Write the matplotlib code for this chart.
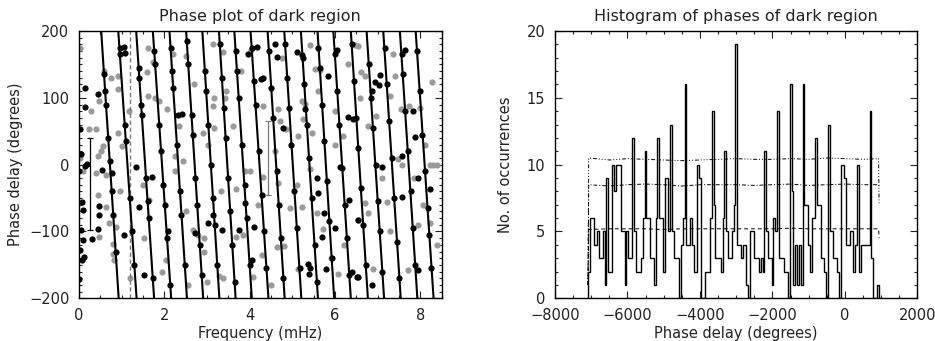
import numpy as np
import matplotlib.pyplot as plt
from matplotlib.ticker import MultipleLocator

# -------------------------------
# Left panel data
# -------------------------------
# fitted phase lines: frequency (mHz) where each line hits +200 and -200 deg
line_top = [0.52, 0.92, 1.34, 1.73, 2.12, 2.51, 2.89, 3.28, 3.64, 4.02,
            4.42, 4.81, 5.20, 5.59, 5.96, 6.37, 6.74, 7.13, 7.52, 7.89]
line_bottom = [0.93, 1.35, 1.76, 2.16, 2.53, 2.91, 3.29, 3.67, 4.05, 4.44,
               4.82, 5.21, 5.60, 5.98, 6.37, 6.77, 7.15, 7.54, 7.93, 8.31]

# (frequency mHz, phase deg)
black_pts = [
    (0.59, 135), (0.61, 110), (0.63, 90), (0.68, 40), (0.72, 5), (0.77, -40), (0.80, -75), (0.86, -130),
    (0.95, 175), (0.96, 165), (1.07, 60), (1.10, 35), (1.19, -50), (1.24, -100), (1.30, -150),
    (1.40, 145), (1.41, 130), (1.46, 90), (1.47, 75), (1.57, -20), (1.61, -55), (1.63, -80), (1.73, -170),
    (1.76, 170), (1.78, 150), (1.88, 60), (1.92, 20), (1.98, -30), (2.01, -60), (2.06, -110), (2.14, -180),
    (2.15, 175), (2.18, 140), (2.21, 115), (2.29, 30), (2.37, -40), (2.40, -75), (2.48, -150),
    (2.53, 185), (2.56, 150), (2.64, 75), (2.67, 45), (2.73, -20), (2.77, -60), (2.83, -120), (2.88, -165),
    (2.95, 140), (2.98, 110), (3.03, 60), (3.09, 0), (3.14, -50), (3.18, -90), (3.24, -150),
    (3.30, 180), (3.35, 130), (3.39, 85), (3.44, 40), (3.50, -20), (3.54, -70), (3.59, -120), (3.65, -175),
    (3.67, 170), (3.70, 140), (3.74, 100), (3.81, 30), (3.88, -30), (3.93, -80), (4.00, -150),
    (4.05, 175), (4.10, 125), (4.14, 90), (4.21, 20), (4.28, -45), (4.34, -100), (4.39, -155),
    (4.45, 170), (4.51, 115), (4.55, 70), (4.63, -10), (4.68, -60), (4.73, -110), (4.79, -170),
    (4.83, 180), (4.88, 130), (4.93, 85), (4.98, 30), (5.05, -40), (5.11, -95), (5.17, -155),
    (5.24, 160), (5.28, 120), (5.34, 60), (5.39, 10), (5.45, -50), (5.52, -120), (5.58, -175),
    (5.61, 175), (5.64, 145), (5.70, 90), (5.75, 35), (5.81, -25), (5.87, -85), (5.92, -140),
    (6.00, 165), (6.05, 110), (6.10, 60), (6.17, -5), (6.23, -60), (6.28, -110), (6.33, -165),
    (6.39, 180), (6.45, 125), (6.50, 70), (6.55, 25), (6.61, -35), (6.66, -90), (6.72, -150),
    (6.79, 150), (6.84, 100), (6.89, 55), (6.95, 0), (7.00, -55), (7.05, -100), (7.11, -160),
    (7.16, 175), (7.21, 120), (7.27, 65), (7.33, 10), (7.39, -50), (7.45, -115), (7.51, -170),
    (7.56, 165), (7.59, 135), (7.64, 80), (7.71, 20), (7.77, -40), (7.82, -95), (7.88, -150),
    (7.92, 170), (7.99, 110), (8.05, 45), (8.11, -10), (8.17, -65), (8.21, -105), (8.26, -155),
    # points away from the lines
    (0.14, 114), (0.14, 86), (0.02, 54), (0.05, 16), (0.18, 1), (0.06, -56), (0.09, -68),
    (0.05, -98), (0.10, -113), (0.02, -128), (0.12, -138), (0.06, -143), (0.01, -171),
    (0.30, -111), (0.45, 106), (0.48, -76), (0.45, -96), (0.00, -10), (0.13, -2),
    (0.46, -62), (0.53, -8), (0.77, -13), (1.06, 176), (1.08, 167), (1.34, -3), (1.40, -63),
    (1.06, -105), (1.53, -165), (1.70, -18), (2.08, -100), (2.33, 74), (2.41, 76),
    (2.71, -102), (3.03, -88), (3.14, -75), (3.35, -98), (3.76, -98), (3.88, -58),
    (3.97, 166), (4.05, -143), (4.09, -93), (4.17, 176), (4.27, 128), (4.32, 129),
    (4.59, 180), (4.64, 161), (4.79, 55), (5.12, 169), (5.22, 164), (5.29, 83),
    (5.36, -148), (5.38, -163), (5.41, -154), (5.57, -20), (5.61, -43), (5.69, -108),
    (5.75, -73), (5.80, -156), (5.84, 133), (6.00, -95), (6.04, 171), (6.11, -4),
    (6.31, 71), (6.32, -53), (6.39, -160), (6.43, 69), (6.51, -168), (6.54, -168),
    (6.55, -83), (6.86, 110), (6.86, -180), (6.93, 123), (7.02, 119), (7.06, 134),
    (7.09, -4), (7.56, 13), (7.56, -48), (7.65, 171), (7.82, 81), (7.88, 41),
    (7.94, -20), (7.94, -158), (8.23, -36),
]

gray_pts = [
    (0.02, 175), (0.75, 130), (0.91, 133), (0.59, 140), (0.91, 113), (0.28, 80), (0.48, 95),
    (0.40, 53), (0.23, 53), (0.56, 28), (0.52, 20), (0.44, 13), (0.02, 10), (0.91, 48),
    (1.00, 28), (1.18, 80), (1.61, 175), (1.73, 153), (1.59, 138), (1.61, 103), (1.77, 100),
    (1.88, 95), (2.06, 83), (2.20, 165), (2.51, 163), (2.35, 58), (2.24, 13), (2.43, 5),
    (2.90, 48), (3.02, 30), (3.13, 88), (3.17, 100), (3.41, 100), (3.17, 55), (3.15, 180),
    (3.45, 110), (3.60, 58), (3.37, 169), (4.03, 171), (2.70, 120), (3.80, 140),
    (5.41, 179), (4.75, 160), (5.29, 91), (5.22, 96), (5.53, 143), (5.65, 141), (5.61, 110),
    (5.26, 68), (4.67, 83), (4.32, 88), (4.71, 66), (4.86, 53), (5.14, 43), (5.45, 48),
    (5.99, 30), (6.19, 43), (6.47, 179), (6.55, 178), (6.62, 138), (6.70, 133), (6.58, 100),
    (6.78, 58), (6.96, 73), (7.37, 166), (7.41, 133), (7.55, 83), (7.73, 88), (8.27, 123),
    (8.30, 0), (7.48, 8), (7.28, 103), (7.98, 85), (8.12, 30), (4.60, 20), (6.30, 150),
    (6.00, 80),
    (0.09, -10), (0.40, -13), (0.63, -16), (0.44, -45), (0.63, -63), (0.71, -88), (0.79, -118),
    (0.79, -133), (0.95, -40), (0.87, -93), (0.46, -108), (0.83, -143), (1.49, -30),
    (1.53, -110), (1.65, -53), (2.04, -143), (2.24, -10), (2.51, -70), (2.67, -98),
    (2.78, -106), (2.94, -110), (2.94, -130), (3.29, -166), (3.37, -170), (3.33, -40),
    (3.68, -36), (3.68, -108), (3.84, -106), (4.00, -10), (4.07, -168), (1.20, -170),
    (1.95, -160), (2.55, -180), (3.00, -175), (3.90, -10),
    (4.32, -18), (4.67, -28), (4.94, -65), (5.22, -63), (5.57, -73), (5.72, -97), (5.41, -6),
    (4.63, -123), (4.81, -121), (4.28, -135), (5.14, -156), (6.08, -163), (6.54, -83),
    (6.78, -73), (6.70, -58), (6.90, -156), (7.21, -56), (7.29, -100), (7.56, 0),
    (8.07, -60), (7.95, -90), (8.23, -88), (8.23, 0), (7.72, -158), (7.84, -20),
    (4.20, -60), (4.50, -180), (5.10, -30), (5.90, -140), (6.20, -120), (7.10, -20),
    (8.40, -120), (8.40, 0),
]

errbar_freq = [0.25, 4.44]
errbar_phase = [-29, 10]
errbar_size = [69, 55]
errbar_color = ["black", "#777777"]
cutoff_freq = 1.2

# -------------------------------
# Right panel data
# -------------------------------
hist_start, hist_stop = -7080, 935
hist_counts = [
    2, 6, 6, 4, 4, 5, 3, 3, 5, 1,
    9, 2, 2, 10, 8, 10, 10, 10, 5, 5,
    1, 5, 3, 3, 12, 5, 2, 2, 2, 3,
    6, 11, 6, 6, 3, 3, 1, 6, 12, 6,
    6, 2, 9, 9, 5, 13, 5, 3, 3, 3,
    0, 4, 6, 16, 4, 4, 6, 4, 2, 2,
    10, 9, 0, 0, 2, 2, 2, 6, 14, 7,
    3, 3, 3, 2, 6, 11, 5, 3, 3, 5,
    7, 19, 4, 4, 3, 4, 4, 1, 0, 5,
    5, 3, 3, 3, 2, 3, 2, 11, 5, 3,
    3, 1, 6, 5, 14, 3, 3, 3, 2, 2,
    0, 16, 8, 1, 4, 1, 4, 1, 16, 7,
    7, 4, 2, 6, 6, 12, 7, 7, 3, 3,
    2, 0, 13, 5, 5, 3, 3, 2, 0, 10,
    10, 9, 4, 4, 5, 5, 2, 4, 10, 2,
    4, 4, 4, 4, 4, 14, 3, 0, 0, 1,
]

level_x = [-7090, -7070, -6500, -6000, -5500, -5000, -4500, -4000, -3500, -3000,
           -2500, -2000, -1500, -1000, -500, 0, 500, 930, 945]
level_mean = [1.0, 5.15, 5.2, 5.2, 5.2, 5.15, 5.2, 5.2, 5.2, 5.2,
              5.2, 5.2, 5.25, 5.2, 5.2, 5.2, 5.2, 5.2, 4.5]
level_mid = [1.0, 8.5, 8.4, 8.5, 8.55, 8.5, 8.4, 8.5, 8.5, 8.5,
             8.45, 8.5, 8.55, 8.45, 8.5, 8.55, 8.5, 8.5, 8.4]
level_top = [1.0, 10.5, 10.35, 10.45, 10.4, 10.35, 10.3, 10.35, 10.4, 10.45,
             10.4, 10.4, 10.45, 10.4, 10.5, 10.45, 10.4, 10.45, 7.0]

# -------------------------------
# Figure
# -------------------------------
plt.rcParams["font.family"] = "DejaVu Sans"
txt = "#222222"

fig = plt.figure(figsize=(9.35, 3.41), dpi=100)
ax1 = fig.add_axes([0.0845, 0.1252, 0.3879, 0.7838])
ax2 = fig.add_axes([0.5936, 0.1252, 0.3875, 0.7838])


def style_axes(ax):
    ax.tick_params(which="both", direction="in", top=True, right=True,
                   labelsize=10.5, colors=txt, width=0.8)
    ax.tick_params(which="major", length=5, pad=7)
    ax.tick_params(which="minor", length=2.5)
    for s in ax.spines.values():
        s.set_linewidth(1.0)
        s.set_color("black")


# --- phase plot ---
gf, gp = zip(*gray_pts)
ax1.scatter(gf, gp, s=20, color="#9a9a9a", linewidths=0, zorder=2)

for t, b in zip(line_top, line_bottom):
    ax1.plot([t, b], [200, -200], color="black", lw=1.5, zorder=3)

bf, bp = zip(*black_pts)
ax1.scatter(bf, bp, s=20, color="black", linewidths=0, zorder=4)

for f, p, e, c in zip(errbar_freq, errbar_phase, errbar_size, errbar_color):
    ax1.errorbar([f], [p], yerr=[e], fmt="none", ecolor=c, elinewidth=0.9,
                 capsize=2.5, capthick=0.9, zorder=5)

ax1.axvline(cutoff_freq, color="#777777", lw=1.0, ls=(0, (3, 2)), zorder=2)

ax1.set_xlim(0, 8.5)
ax1.set_ylim(-200, 200)
ax1.xaxis.set_major_locator(MultipleLocator(2))
ax1.xaxis.set_minor_locator(MultipleLocator(0.5))
ax1.yaxis.set_major_locator(MultipleLocator(100))
ax1.yaxis.set_minor_locator(MultipleLocator(10))
style_axes(ax1)
ax1.set_xlabel("Frequency (mHz)", fontsize=10.5, color=txt, labelpad=2)
ax1.set_ylabel("Phase delay (degrees)", fontsize=10.5, color=txt, labelpad=4)
ax1.set_title("Phase plot of dark region", fontsize=11.5, color=txt, pad=7)

# --- histogram ---
edges = np.linspace(hist_start, hist_stop, len(hist_counts) + 1)
ax2.stairs(hist_counts, edges, baseline=0, color="black", lw=1.0, zorder=3)

ax2.plot(level_x, level_mean, color="black", lw=0.7, ls=(0, (4, 3)))
ax2.plot(level_x, level_mid, color="black", lw=0.7, ls=(0, (4, 2, 1, 2)))
ax2.plot(level_x, level_top, color="black", lw=0.7,
         ls=(0, (4, 2, 1, 2, 1, 2, 1, 2)))

ax2.set_xlim(-8000, 2000)
ax2.set_ylim(0, 20)
ax2.xaxis.set_major_locator(MultipleLocator(2000))
ax2.xaxis.set_minor_locator(MultipleLocator(500))
ax2.yaxis.set_major_locator(MultipleLocator(5))
ax2.yaxis.set_minor_locator(MultipleLocator(1))
style_axes(ax2)
ax2.set_xlabel("Phase delay (degrees)", fontsize=10.5, color=txt, labelpad=2)
ax2.set_ylabel("No. of occurrences", fontsize=10.5, color=txt, labelpad=10)
ax2.set_title("Histogram of phases of dark region", fontsize=11.5, color=txt, pad=7)

# end labels sit inside the axis range, as in the original
for ax in (ax1, ax2):
    ticks = ax.yaxis.get_major_ticks()
    ticks[0].label1.set_va("bottom")
    ticks[-1].label1.set_va("top")

fig.savefig("out.png", dpi=100)
